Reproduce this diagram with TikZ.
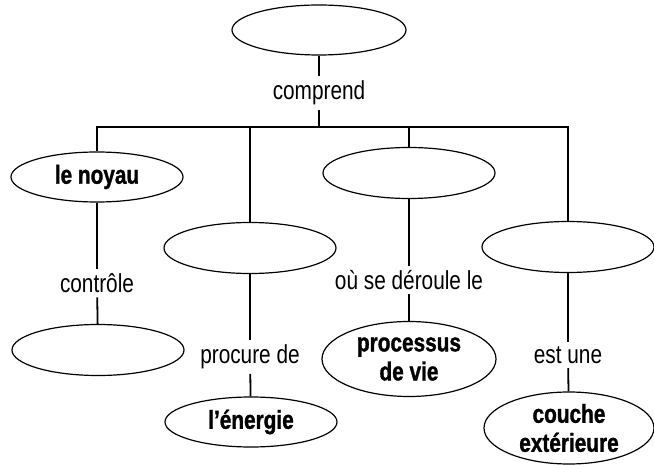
\documentclass[tikz,border=0pt]{standalone}
\usepackage{fontspec}
\setmainfont{Liberation Sans}[FakeStretch=0.8, BoldFeatures={FakeBold=1.2}]
\usetikzlibrary{shapes.geometric}
\begin{document}
\begin{tikzpicture}[x=1pt,y=-1pt,
  ell/.style={draw, ellipse, line width=1.2pt, inner sep=0pt,
    minimum width=172pt, minimum height=51pt,
    font=\fontsize{26}{29}\selectfont\bfseries, align=center},
  lab/.style={inner sep=4.5pt, font=\fontsize{26}{29}\selectfont},
  conn/.style={line width=1.8pt}]
\useasboundingbox (0,0) rectangle (654,465);
% concept ellipses
\node[ell, minimum width=174pt, minimum height=50pt] (top) at (319,30) {};
\node[ell, minimum height=50pt] (noyau) at (97,177) {le noyau};
\node[ell] (e2) at (250,248) {};
\node[ell] (e3) at (409,173) {};
\node[ell] (e4) at (568,247) {};
\node[ell] (bl) at (98,350) {};
\node[ell, minimum width=174pt, minimum height=75pt] (proc) at (409,359) {processus\\de vie};
\node[ell, minimum height=50pt] (energie) at (251,422) {l’énergie};
\node[ell, minimum width=170pt, minimum height=72pt] (couche) at (569,428) {couche\\extérieure};
% linking words
\node[lab] (comprend) at (319,93) {comprend};
\node[lab] (controle) at (97,283) {contrôle};
\node[lab] (ou) at (409,280) {où se déroule le};
\node[lab] (procure) at (250,357) {procure de};
\node[lab] (estune) at (568,355) {est une};
\coordinate (bar) at (319,127);
% connectors
\draw[conn] (top) -- (comprend);
\draw[conn] (comprend) -- (bar);
\draw[conn] (noyau) -- (noyau |- bar) -- (e4 |- bar) -- (e4);
\draw[conn] (e2) -- (e2 |- bar);
\draw[conn] (e3) -- (e3 |- bar);
\draw[conn] (noyau) -- (controle);
\draw[conn] (controle) -- (bl);
\draw[conn] (e3) -- (ou);
\draw[conn] (ou) -- (proc);
\draw[conn] (e2) -- (procure);
\draw[conn] (procure) -- (energie);
\draw[conn] (e4) -- (estune);
\draw[conn] (estune) -- (couche);
\end{tikzpicture}
\end{document}
